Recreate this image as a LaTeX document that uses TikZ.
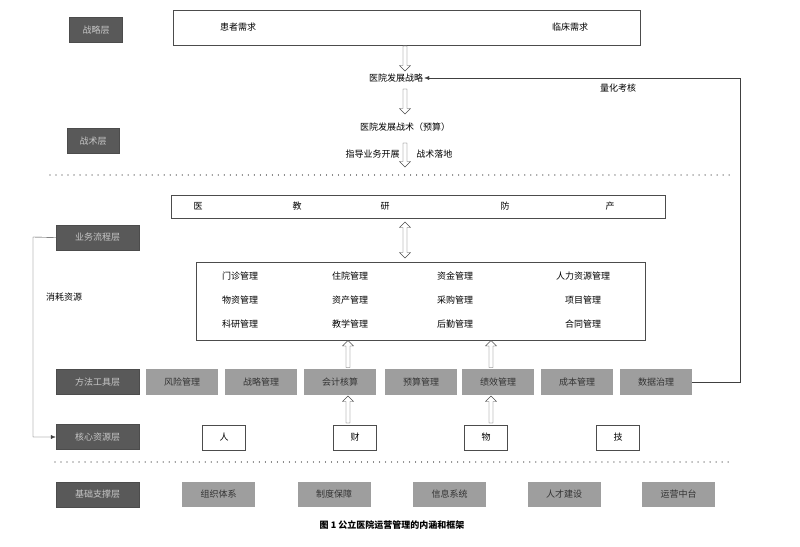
\documentclass[tikz,border=0pt]{standalone}
\usepackage{fontspec}
\newfontfamily\cjk{Noto Sans CJK SC}
\usetikzlibrary{positioning,shapes.arrows,arrows.meta}
\tikzset{
  layer/.style={draw=black!70, fill=black!65, text=black!22, minimum width=83pt, minimum height=25pt, inner sep=1pt, font=\cjk\small},
  tool/.style={fill=black!38, text=black!80, minimum width=72pt, minimum height=26pt, inner sep=1pt, font=\cjk\small},
  res/.style={draw=black!70, fill=white, minimum width=43pt, minimum height=25pt, font=\cjk\small},
  txt/.style={font=\cjk\small, inner sep=1pt},
  hollow/.style={single arrow, draw=black!70, fill=white, minimum width=11pt, single arrow head extend=2.5pt, inner sep=1.2pt, shape border rotate=#1},
  dots/.style={black!55, line width=1.2pt, dash pattern=on 0.01pt off 6pt, line cap=round}
}
\begin{document}
\begin{tikzpicture}[x=1pt,y=-1pt]
\useasboundingbox (0,0) rectangle (800,546);
%STRATEGY
\node (needs) [draw=black!70, minimum width=467pt, minimum height=35pt] at (406.5,27.5) {};
\node (patient) [txt] at (238,27) {患者需求};
\node (clinic) [txt] at (570,27) {临床需求};
\node (lstrat) [layer, minimum width=53pt] at (96,30) {战略层};
\node (a1) [hollow=270, minimum height=25pt] at (405,57.5) {};
\node (strat) [txt] at (396,78) {医院发展战略};
\node (a2) [hollow=270, minimum height=25pt] at (405,100.5) {};
\node (tact) [txt] at (405,127) {医院发展战术（预算）};
\node (ltact) [layer, minimum width=52pt] at (93,141) {战术层};
\node (a3) [hollow=270, minimum height=24pt] at (405,154) {};
\node (guide) [txt, left=2pt of a3] {指导业务开展};
\node (land) [txt, right=8pt of a3] {战术落地};
\draw [dots] (50,175) -- (730,175);
%PROCESS
\node (biz) [draw=black!70, minimum width=494pt, minimum height=23pt] at (418,206.5) {};
\foreach \x/\t [count=\i] in {198/医,297/教,385/研,505/防,610/产}
  \node (b\i) [txt] at (\x,206.5) {\t};
\node (a4) [double arrow, draw=black!70, fill=white, minimum width=11pt, double arrow head extend=2.5pt, inner sep=1.2pt, shape border rotate=90, minimum height=36pt] at (405,240) {};
\node (lproc) [layer] at (97.5,237.5) {业务流程层};
\node (mgmt) [draw=black!70, minimum width=449pt, minimum height=78pt] at (420.5,301) {};
\foreach \t [count=\i] in {门诊管理,住院管理,资金管理,人力资源管理}
  \node (m1\i) [txt] at ({\i==4 ? 583 : 130+110*\i-(\i==3 ? 5 : 0)},276) {\t};
\foreach \t [count=\i] in {物资管理,资产管理,采购管理,项目管理}
  \node (m2\i) [txt] at ({\i==4 ? 583 : 130+110*\i-(\i==3 ? 5 : 0)},300) {\t};
\foreach \t [count=\i] in {科研管理,教学管理,后勤管理,合同管理}
  \node (m3\i) [txt] at ({\i==4 ? 583 : 130+110*\i-(\i==3 ? 5 : 0)},324) {\t};
\node (consume) [txt] at (64,297) {消耗资源};
%TOOLS
\node (ltool) [layer] at (97.5,382) {方法工具层};
\node (t1) [tool] at (182,382) {风险管理};
\node (t2) [tool] at (261,382) {战略管理};
\node (t3) [tool] at (340,382) {会计核算};
\node (t4) [tool] at (421,382) {预算管理};
\node (t5) [tool] at (498,382) {绩效管理};
\node (t6) [tool] at (577,382) {成本管理};
\node (t7) [tool] at (656,382) {数据治理};
\node (a5) [hollow=90, minimum height=27pt] at (348,355) {};
\node (a6) [hollow=90, minimum height=27pt] at (491,355) {};
%RESOURCES
\node (lres) [layer] at (97.5,437) {核心资源层};
\node (r1) [res] at (224,437.5) {人};
\node (r2) [res] at (355,437.5) {财};
\node (r3) [res] at (486,437.5) {物};
\node (r4) [res] at (618,437.5) {技};
\node (a7) [hollow=90, minimum height=27pt] at (348,410.5) {};
\node (a8) [hollow=90, minimum height=27pt] at (491,410.5) {};
\draw [dots] (55,462) -- (730,462);
%BASE
\node (lbase) [layer] at (97.5,494.5) {基础支撑层};
\foreach \x/\t [count=\i] in {218.5/组织体系,334/制度保障,449.5/信息系统,564/人才建设,678.5/运营中台}
  \node (s\i) [tool, minimum width=73pt, minimum height=25pt] at (\x,494.5) {\t};
\node (cap) [font=\cjk\small\bfseries] at (392,525) {图 1 公立医院运营管理的内涵和框架};
%%CONNECTIONS
\coordinate (fb) at (740,382);
\node (quant) [txt] at (618,88) {量化考核};
\draw [black!75, -{Latex[length=5pt,width=4pt]}] (t7.east) -- (fb) |- (strat.east);
\coordinate (lp) at (33,237);
\draw [black!75, -{Latex[length=5pt,width=4pt]}] (lproc.west) -- (lp) |- (lres.west);
\end{tikzpicture}
\end{document}
